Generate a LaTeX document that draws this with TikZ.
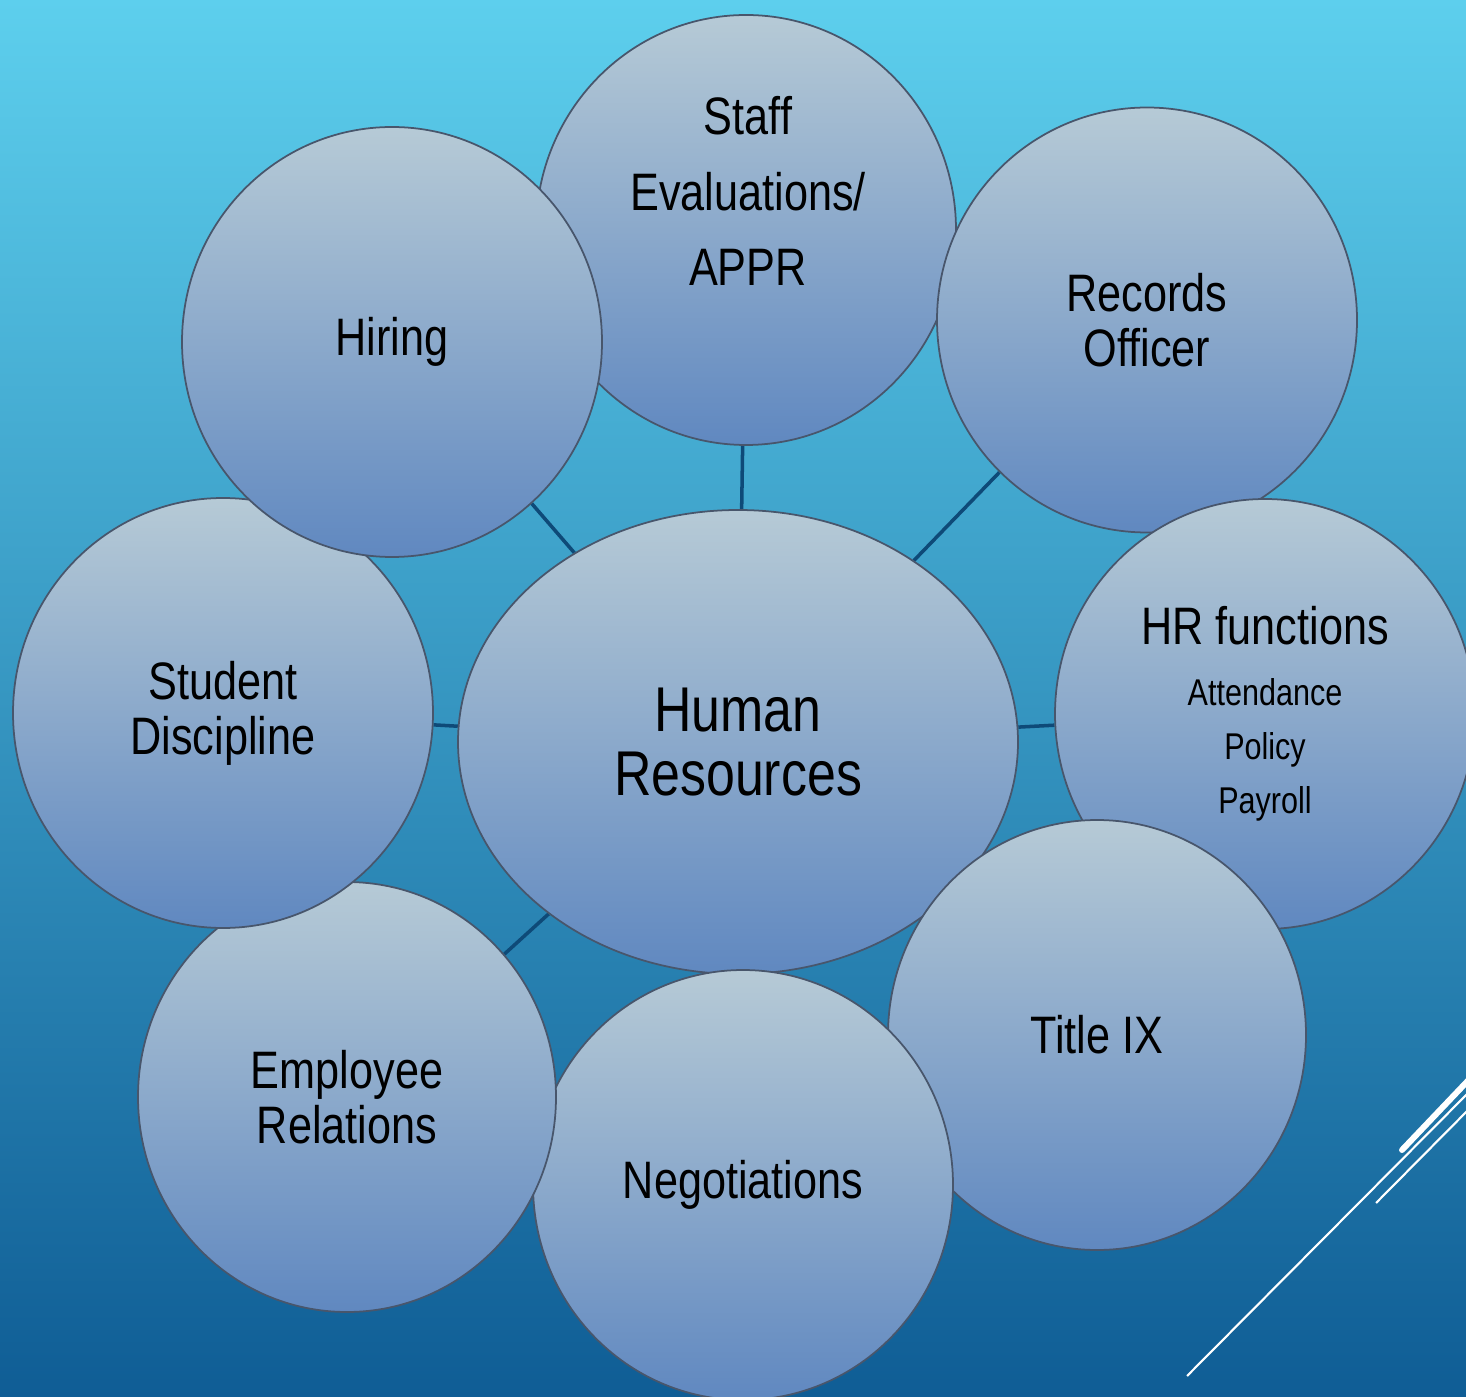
\documentclass[tikz,border=0pt]{standalone}
\usepackage{fontspec}
\setmainfont{Liberation Sans}[FakeStretch=0.82]
\usetikzlibrary{shapes.geometric}
\definecolor{bgtop}{RGB}{93,207,237}
\definecolor{bgmid}{RGB}{56,160,203}
\definecolor{bgbot}{RGB}{15,93,149}
\definecolor{bubtop}{RGB}{182,202,214}
\definecolor{bubmid}{RGB}{150,178,207}
\definecolor{bubbot}{RGB}{96,136,192}
\definecolor{bubline}{RGB}{72,86,108}
\definecolor{linkcol}{RGB}{14,74,120}
\pgfdeclarelayer{back}
\pgfdeclarelayer{links}
\pgfsetlayers{back,links,main}
\newcommand\hrsub{\fontsize{10.6}{12}\selectfont}
\begin{document}
\begin{tikzpicture}[x=0.1mm,y=-0.1mm,
    bubble/.style={ellipse,draw=bubline,line width=0.5pt,top color=bubtop,middle color=bubmid,bottom color=bubbot,
      minimum width=42mm,minimum height=43mm,inner sep=0pt,align=center,
      font=\fontsize{15}{15.6}\selectfont},
    hub/.style={bubble,minimum width=56mm,minimum height=46.4mm,font=\fontsize{18}{18}\selectfont},
    link/.style={draw=linkcol,line width=1pt},
    deco/.style={white,line width=#1}]
    \useasboundingbox (0,0) rectangle (1466,1397);
    \begin{pgfonlayer}{back}
    \fill[top color=bgtop,middle color=bgmid,bottom color=bgbot] (0,0) rectangle (1466,1397);
    \end{pgfonlayer}
    \node[hub] (hr) at (738,742) {Human\\Resources};
    \node[bubble] (staff) at (746,230) {};
    \node[bubble,minimum height=42.5mm] (records) at (1147,320) {Records\\Officer};
    \node[bubble] (hrf) at (1265,714) {HR functions\\[1.8pt]\hrsub Attendance\\[-0.2pt]\hrsub Policy\\[-0.2pt]\hrsub Payroll};
    \node[bubble,minimum width=41.8mm] (title) at (1097,1035) {Title IX};
    \node[bubble] (nego) at (743,1185) {Negotiations};
    \node[bubble,minimum width=41.8mm] (emp) at (347,1097) {Employee\\Relations};
    \node[bubble] (student) at (223,713) {Student\\Discipline};
    \node[bubble] (hiring) at (392,342) {Hiring};
    \node[align=center,font=\fontsize{15}{15.6}\selectfont] (staff-text) at (748,191) {Staff\\[6pt]Evaluations/\\[6pt]APPR};
    \begin{pgfonlayer}{links}
    \foreach \s in {staff,records,hrf,title,nego,emp,student,hiring}
    \draw[link] (hr) -- (\s);
    \end{pgfonlayer}
    \draw[deco=1.7pt,line cap=round] (1402,1150) -- (1480,1068);
    \draw[deco=0.6pt] (1187,1376) -- (1480,1081);
    \draw[deco=0.6pt] (1376,1203) -- (1480,1098);
\end{tikzpicture}
\end{document}
